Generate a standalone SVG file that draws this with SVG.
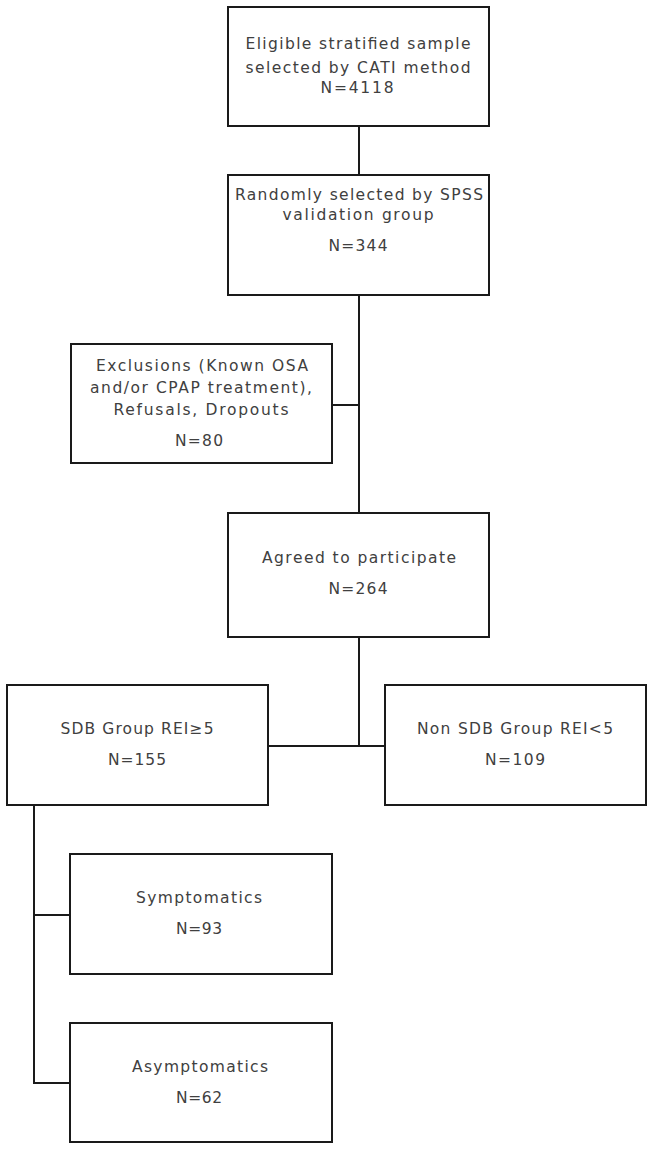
<svg xmlns="http://www.w3.org/2000/svg" width="653" height="1149" viewBox="0 0 653 1149">
<style>
.box{fill:#fff;stroke:#1a1a1a;stroke-width:2}
.ln{stroke:#1a1a1a;stroke-width:2;fill:none}
text{font-family:"DejaVu Sans","Liberation Sans",sans-serif;font-size:15.5px;fill:#404040;text-anchor:middle}
</style>
<rect width="653" height="1149" fill="#fff"/>
<g id="connectors">
<line class="ln" x1="359" y1="126" x2="359" y2="175"/>
<line class="ln" x1="359" y1="295" x2="359" y2="513"/>
<line class="ln" x1="332" y1="405" x2="359" y2="405"/>
<line class="ln" x1="359" y1="637" x2="359" y2="746"/>
<line class="ln" x1="268" y1="746" x2="385" y2="746"/>
<polyline class="ln" points="34,805 34,1083 70,1083"/>
<line class="ln" x1="34" y1="915" x2="70" y2="915"/>
</g>
<g id="eligible">
<rect class="box" x="228" y="7" width="261" height="119"/>
<text x="358" y="49" textLength="225" lengthAdjust="spacing">Eligible stratified sample</text>
<text x="358" y="73" textLength="225" lengthAdjust="spacing">selected by CATI method</text>
<text x="357" y="93" textLength="73" lengthAdjust="spacing">N=4118</text>
</g>
<g id="random">
<rect class="box" x="228" y="175" width="261" height="120"/>
<text x="359" y="200" textLength="248" lengthAdjust="spacing">Randomly selected by SPSS</text>
<text x="358" y="220" textLength="151" lengthAdjust="spacing">validation group</text>
<text x="358" y="251" textLength="59" lengthAdjust="spacing">N=344</text>
</g>
<g id="exclusions">
<rect class="box" x="71" y="344" width="261" height="119"/>
<text x="202" y="371" textLength="212" lengthAdjust="spacing">Exclusions (Known OSA</text>
<text x="201" y="393" textLength="222" lengthAdjust="spacing">and/or CPAP treatment),</text>
<text x="201" y="415" textLength="175" lengthAdjust="spacing">Refusals, Dropouts</text>
<text x="199" y="446" textLength="48" lengthAdjust="spacing">N=80</text>
</g>
<g id="agreed">
<rect class="box" x="228" y="513" width="261" height="124"/>
<text x="359" y="563" textLength="194" lengthAdjust="spacing">Agreed to participate</text>
<text x="358" y="594" textLength="59" lengthAdjust="spacing">N=264</text>
</g>
<g id="sdb">
<rect class="box" x="7" y="685" width="261" height="120"/>
<text x="137" y="734" textLength="153" lengthAdjust="spacing">SDB Group REI≥5</text>
<text x="137" y="765" textLength="58" lengthAdjust="spacing">N=155</text>
</g>
<g id="nonsdb">
<rect class="box" x="385" y="685" width="261" height="120"/>
<text x="515" y="734" textLength="196" lengthAdjust="spacing">Non SDB Group REI&lt;5</text>
<text x="515" y="765" textLength="60" lengthAdjust="spacing">N=109</text>
</g>
<g id="symptomatics">
<rect class="box" x="70" y="854" width="262" height="120"/>
<text x="199" y="903" textLength="126" lengthAdjust="spacing">Symptomatics</text>
<text x="199" y="934" textLength="46" lengthAdjust="spacing">N=93</text>
</g>
<g id="asymptomatics">
<rect class="box" x="70" y="1023" width="262" height="119"/>
<text x="200" y="1072" textLength="136" lengthAdjust="spacing">Asymptomatics</text>
<text x="199" y="1103" textLength="46" lengthAdjust="spacing">N=62</text>
</g>
</svg>
